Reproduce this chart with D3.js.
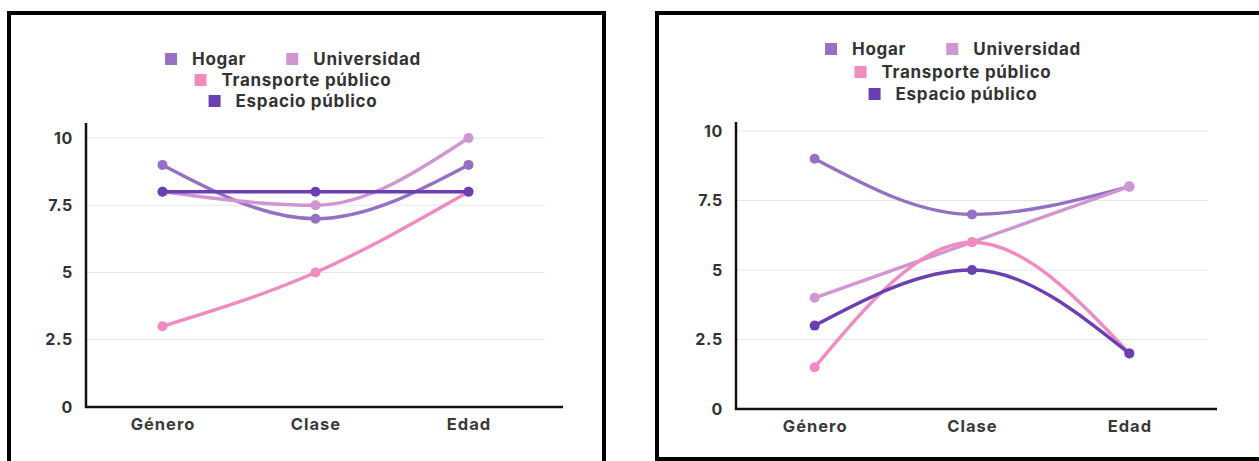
<!DOCTYPE html>
<html>
<head>
<meta charset="utf-8">
<script src="https://cdn.jsdelivr.net/npm/d3@7"></script>
<style>
  body { margin: 0; background: #fff; }
  svg { display: block; font-family: Inter, "Noto Sans", sans-serif; font-weight: 700; }
</style>
</head>
<body>
<script>
// Categories and tick labels shared by both panels
var categories = ['Género', 'Clase', 'Edad'];
var yTicks = [0, 2.5, 5, 7.5, 10];
var seriesNames = ['Hogar', 'Universidad', 'Transporte público', 'Espacio público'];
var seriesColors = ['#9571c6', '#d096d1', '#f08bc1', '#6b3fb1'];

// Left chart values (one per category)
var leftHogar = [9, 7, 9];
var leftUniversidad = [8, 7.5, 10];
var leftTransporte = [3, 5, 8];
var leftEspacio = [8, 8, 8];

// Right chart values
var rightHogar = [9, 7, 8];
var rightUniversidad = [4, 6, 8];
var rightTransporte = [1.5, 6, 2];
var rightEspacio = [3, 5, 2];

var W = 1259, H = 461;

var svg = d3.select('body').append('svg')
  .attr('width', W)
  .attr('height', H);

function drawPanel(p) {
  var g = svg.append('g');

  // panel frame
  g.append('rect')
    .attr('x', p.frame[0]).attr('y', p.frame[1])
    .attr('width', p.frame[2]).attr('height', p.frame[3])
    .attr('fill', 'none')
    .attr('stroke', '#000')
    .attr('stroke-width', 4);

  var x = d3.scalePoint()
    .domain(categories)
    .range([p.left, p.gridRight])
    .padding(0.5);

  var y = d3.scaleLinear()
    .domain([0, 10])
    .range([p.bottom, p.top]);

  // gridlines
  g.selectAll('.grid')
    .data(yTicks.filter(function(d) { return d > 0; }))
    .enter().append('line')
    .attr('x1', p.left).attr('x2', p.gridRight)
    .attr('y1', function(d) { return y(d); })
    .attr('y2', function(d) { return y(d); })
    .attr('stroke', '#e6e6e6')
    .attr('stroke-width', 1);

  // y axis: tick text only, line drawn separately
  var yAxis = g.append('g')
    .attr('transform', 'translate(' + p.left + ',0)')
    .call(d3.axisLeft(y).tickValues(yTicks).tickSize(0).tickPadding(13)
      .tickFormat(function(d) { return String(d); }));
  yAxis.select('.domain').remove();
  yAxis.selectAll('text')
    .attr('fill', '#333')
    .style('font-size', '16px')
    .style('letter-spacing', '0.7px')
    .style('font-family', 'Inter, sans-serif')
    .style('font-weight', 700);

  var xAxis = g.append('g')
    .attr('transform', 'translate(0,' + p.bottom + ')')
    .call(d3.axisBottom(x).tickSize(0).tickPadding(11));
  xAxis.select('.domain').remove();
  xAxis.selectAll('text')
    .attr('fill', '#3a3a3a')
    .style('font-size', '16.5px')
    .style('letter-spacing', '1px')
    .style('font-family', 'Inter, sans-serif')
    .style('font-weight', 700);

  // axis lines
  g.append('line')
    .attr('x1', p.left).attr('x2', p.left)
    .attr('y1', p.axisTop).attr('y2', p.bottom + 1)
    .attr('stroke', '#111').attr('stroke-width', 2.5);
  g.append('line')
    .attr('x1', p.left - 1).attr('x2', p.axisRight)
    .attr('y1', p.bottom).attr('y2', p.bottom)
    .attr('stroke', '#111').attr('stroke-width', 2.5);

  var line = d3.line()
    .x(function(d, i) { return x(categories[i]); })
    .y(function(d) { return y(d); })
    .curve(d3.curveMonotoneX);

  p.series.forEach(function(vals, si) {
    var sg = g.append('g');
    sg.append('path')
      .attr('d', line(vals))
      .attr('fill', 'none')
      .attr('stroke', seriesColors[si])
      .attr('stroke-width', 3.4)
      .attr('stroke-linecap', 'round');
    sg.selectAll('circle')
      .data(vals)
      .enter().append('circle')
      .attr('cx', function(d, i) { return x(categories[i]); })
      .attr('cy', function(d) { return y(d); })
      .attr('r', 5)
      .attr('fill', seriesColors[si]);
  });

  // legend rows, centered
  var rows = [[0, 1], [2], [3]];
  rows.forEach(function(row, ri) {
    var lg = g.append('g');
    var cx = 0;
    row.forEach(function(si, k) {
      if (k > 0) cx += 40;
      lg.append('rect')
        .attr('x', cx).attr('y', -6)
        .attr('width', 12).attr('height', 12)
        .attr('fill', seriesColors[si]);
      var t = lg.append('text')
        .attr('x', cx + 27).attr('y', 0)
        .attr('dy', '0.35em')
        .attr('fill', '#333')
        .style('font-size', '17px')
        .style('letter-spacing', '0.7px')
        .text(seriesNames[si]);
      cx += 27 + t.node().getComputedTextLength();
    });
    lg.attr('transform', 'translate(' + (p.legendX - cx / 2) + ',' + p.legendY[ri] + ')');
  });
}

drawPanel({
  frame: [9, 13, 595, 470],
  left: 86, gridRight: 545, axisRight: 563,
  top: 138, bottom: 407, axisTop: 123,
  legendX: 293, legendY: [59, 80, 101],
  series: [leftHogar, leftUniversidad, leftTransporte, leftEspacio]
});

drawPanel({
  frame: [657, 13, 620, 446],
  left: 736, gridRight: 1208, axisRight: 1217,
  top: 131, bottom: 409, axisTop: 122,
  legendX: 953, legendY: [49, 72, 94],
  series: [rightHogar, rightUniversidad, rightTransporte, rightEspacio]
});
</script>
</body>
</html>
